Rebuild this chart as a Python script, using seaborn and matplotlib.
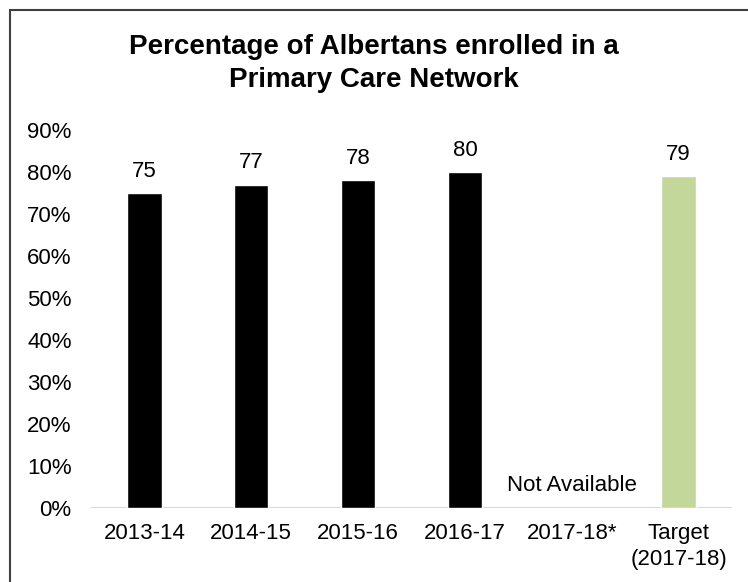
import matplotlib
matplotlib.use("Agg")
import matplotlib.pyplot as plt
from matplotlib.patches import Rectangle
import numpy as np
import pandas as pd
import seaborn as sns

# Fiscal years and enrolment percentages
categories = ["2013-14", "2014-15", "2015-16", "2016-17", "2017-18*", "Target\n(2017-18)"]
values = [75, 77, 78, 80, np.nan, 79]
kinds = ["Actual", "Actual", "Actual", "Actual", "Actual", "Target"]
y_ticks = [0, 10, 20, 30, 40, 50, 60, 70, 80, 90]
palette = {"Actual": "#000000", "Target": "#C4D79B"}

sns.set_theme(style="white")
plt.rcParams["font.family"] = ["Liberation Sans", "DejaVu Sans"]
plt.rcParams["text.color"] = "black"

df = pd.DataFrame({"year": categories, "pct": values, "kind": kinds})

fig = plt.figure(figsize=(7.48, 5.82), dpi=100)
ax = fig.add_axes([91 / 748, 1 - 508 / 582, (732 - 91) / 748, (508 - 130) / 582])

sns.barplot(data=df, x="year", y="pct", hue="kind", order=categories,
            palette=palette, width=0.32, dodge=False, legend=False, ax=ax,
            saturation=1)

# Value labels above bars
for i, v in enumerate(values):
    if not np.isnan(v):
        ax.annotate(f"{v:.0f}", (i, v), xytext=(0, 8), textcoords="offset points",
                    ha="center", va="bottom", fontsize=16, color="black")

ax.text(4, 4, "Not Available", ha="center", va="baseline", fontsize=16, color="black")

ax.set_ylim(0, 90)
ax.set_xlim(-0.5, len(categories) - 0.5)
ax.set_yticks(y_ticks)
ax.set_yticklabels([f"{t}%" for t in y_ticks])
ax.tick_params(axis="y", length=0, pad=14, labelsize=16, labelcolor="black")
ax.tick_params(axis="x", length=0, pad=11, labelsize=16, labelcolor="black")
for lbl in ax.get_xticklabels():
    lbl.set_linespacing(1.3)
ax.set_xlabel("")
ax.set_ylabel("")
for s in ax.spines.values():
    s.set_visible(False)
ax.axhline(0, color="#d9d9d9", lw=1.5, zorder=0)

fig.text(0.5, 1 - 47 / 582, "Percentage of Albertans enrolled in a",
         ha="center", va="center", fontsize=20, fontweight="bold", color="black")
fig.text(0.5, 1 - 80 / 582, "Primary Care Network",
         ha="center", va="center", fontsize=20, fontweight="bold", color="black")

# Chart frame
fig.patches.append(Rectangle((9.5 / 748, -0.1), 1.2, 1 - 9.5 / 582 + 0.1,
                             transform=fig.transFigure, fill=False,
                             edgecolor="#3f3f3f", lw=1.5))

fig.savefig("out.png", dpi=100)
